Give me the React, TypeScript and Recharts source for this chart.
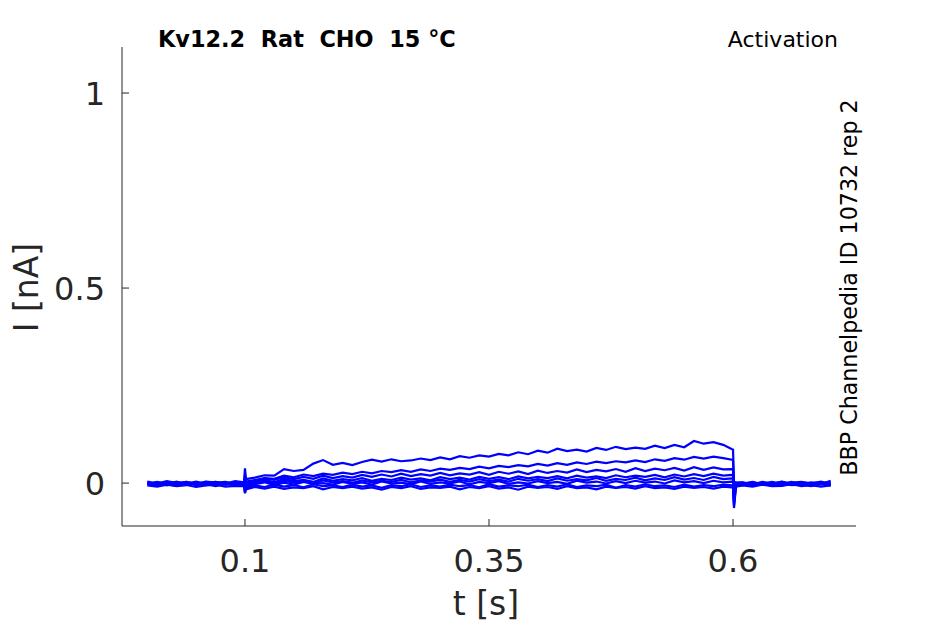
import React from "react";
import { LineChart, Line, XAxis, YAxis } from "recharts";

// time points [s]
const TIME = [
  0, 0.01, 0.02, 0.03, 0.04, 0.05, 0.06, 0.07, 0.08, 0.09,
  0.099, 0.1, 0.101,
  0.11, 0.12, 0.13, 0.14, 0.15, 0.16, 0.17, 0.18, 0.19, 0.2,
  0.21, 0.22, 0.23, 0.24, 0.25, 0.26, 0.27, 0.28, 0.29, 0.3,
  0.31, 0.32, 0.33, 0.34, 0.35, 0.36, 0.37, 0.38, 0.39, 0.4,
  0.41, 0.42, 0.43, 0.44, 0.45, 0.46, 0.47, 0.48, 0.49, 0.5,
  0.51, 0.52, 0.53, 0.54, 0.55, 0.56, 0.57, 0.58, 0.59,
  0.599, 0.6, 0.601, 0.603,
  0.61, 0.62, 0.63, 0.64, 0.65, 0.66, 0.67, 0.68, 0.69, 0.7,
];

// current traces [nA]
const TRACE_A = [
  0.004, -0.001, 0.005, 0.0, 0.003, -0.002, 0.004, 0.001, -0.001, 0.005,
  0.002, 0.038, 0.01,
  0.014, 0.02, 0.019, 0.036, 0.031, 0.034, 0.05, 0.059, 0.047, 0.052,
  0.046, 0.054, 0.06, 0.055, 0.061, 0.056, 0.058, 0.063, 0.059, 0.066,
  0.061, 0.069, 0.065, 0.071, 0.068, 0.075, 0.071, 0.079, 0.074, 0.083,
  0.078, 0.088, 0.082, 0.086, 0.081, 0.09, 0.085, 0.093, 0.087, 0.091,
  0.088, 0.096, 0.09, 0.098, 0.092, 0.108, 0.101, 0.105, 0.098,
  0.087, 0.086, 0.003, 0.002,
  0.001, -0.003, 0.003, -0.001, 0.004, -0.002, 0.002, 0.0, -0.003, 0.006,
];
const TRACE_B = [
  -0.002, 0.003, -0.003, 0.002, -0.001, 0.004, -0.002, 0.001, 0.003, -0.002,
  0.0, 0.022, 0.004,
  0.008, 0.013, 0.011, 0.019, 0.015, 0.022, 0.018, 0.024, 0.021, 0.027,
  0.023, 0.029, 0.025, 0.031, 0.028, 0.033, 0.029, 0.035, 0.031, 0.037,
  0.034, 0.039, 0.036, 0.042, 0.038, 0.044, 0.041, 0.046, 0.043, 0.049,
  0.045, 0.051, 0.047, 0.053, 0.049, 0.055, 0.051, 0.056, 0.053, 0.058,
  0.054, 0.061, 0.057, 0.064, 0.06, 0.067, 0.063, 0.068, 0.064,
  0.06, 0.058, -0.01, -0.002,
  -0.003, 0.002, -0.004, 0.001, -0.002, 0.003, -0.004, 0.0, 0.002, -0.003,
];
const TRACE_C = [
  0.001, -0.004, 0.002, -0.002, 0.003, -0.003, 0.0, 0.003, -0.004, 0.001,
  -0.002, 0.015, 0.002,
  0.006, 0.012, 0.008, 0.015, 0.01, 0.016, 0.011, 0.019, 0.013, 0.018,
  0.014, 0.021, 0.016, 0.022, 0.017, 0.024, 0.018, 0.023, 0.019, 0.026,
  0.02, 0.025, 0.022, 0.028, 0.021, 0.029, 0.024, 0.03, 0.023, 0.032,
  0.026, 0.031, 0.027, 0.035, 0.028, 0.034, 0.03, 0.036, 0.029, 0.038,
  0.031, 0.037, 0.033, 0.039, 0.032, 0.041, 0.034, 0.04, 0.035,
  0.036, 0.034, -0.02, 0.001,
  0.002, -0.004, 0.001, -0.002, 0.003, -0.003, 0.001, -0.001, 0.004, -0.002,
];
const TRACE_D = [
  -0.003, 0.002, -0.001, 0.004, -0.004, 0.001, -0.002, 0.003, -0.003, 0.002,
  0.001, 0.01, 0.0,
  0.004, 0.009, 0.002, 0.011, 0.005, 0.008, 0.003, 0.012, 0.006, 0.01,
  0.007, 0.013, 0.006, 0.011, 0.008, 0.014, 0.009, 0.012, 0.007, 0.015,
  0.01, 0.014, 0.009, 0.016, 0.011, 0.015, 0.01, 0.017, 0.012, 0.016,
  0.013, 0.018, 0.012, 0.019, 0.014, 0.017, 0.013, 0.02, 0.015, 0.019,
  0.016, 0.021, 0.015, 0.022, 0.017, 0.023, 0.018, 0.024, 0.019,
  0.021, 0.02, -0.03, -0.003,
  -0.001, 0.003, -0.003, 0.002, -0.004, 0.001, 0.003, -0.002, 0.001, -0.004,
];
const TRACE_E = [
  0.002, -0.005, 0.001, -0.003, 0.002, -0.004, 0.003, -0.002, 0.0, -0.004,
  -0.003, -0.012, -0.004,
  0.0, 0.005, -0.002, 0.006, 0.001, 0.004, -0.001, 0.007, 0.002, 0.005,
  0.001, 0.007, 0.002, 0.006, 0.003, 0.008, 0.002, 0.007, 0.004, 0.009,
  0.003, 0.008, 0.004, 0.01, 0.005, 0.009, 0.004, 0.011, 0.006, 0.01,
  0.005, 0.012, 0.006, 0.01, 0.007, 0.013, 0.006, 0.011, 0.008, 0.014,
  0.007, 0.012, 0.008, 0.015, 0.009, 0.013, 0.008, 0.016, 0.01,
  0.012, 0.011, -0.04, -0.005,
  -0.004, 0.001, -0.002, 0.003, -0.003, 0.0, -0.004, 0.002, -0.001, 0.003,
];
const TRACE_F = [
  -0.004, 0.0, -0.006, -0.001, -0.003, 0.001, -0.005, -0.002, 0.0, -0.006,
  -0.004, -0.02, -0.008,
  -0.003, 0.002, -0.005, 0.001, -0.004, 0.003, -0.002, 0.0, -0.004, 0.003,
  -0.002, 0.002, -0.004, 0.004, -0.001, 0.001, -0.003, 0.004, -0.002, 0.002,
  -0.001, 0.004, -0.003, 0.003, 0.0, 0.005, -0.002, 0.002, -0.001, 0.005,
  0.0, 0.003, -0.002, 0.006, 0.001, 0.004, -0.001, 0.005, 0.0, 0.006,
  0.001, 0.004, -0.001, 0.007, 0.002, 0.005, 0.0, 0.006, 0.002,
  0.004, 0.003, -0.05, -0.006,
  -0.005, -0.001, -0.003, 0.001, -0.006, -0.002, 0.0, -0.004, -0.001, -0.005,
];
const TRACE_G = [
  -0.001, -0.006, -0.002, -0.007, 0.0, -0.005, -0.003, -0.008, -0.002, -0.004,
  -0.006, -0.024, -0.012,
  -0.006, -0.01, -0.004, -0.009, -0.005, -0.011, -0.003, -0.008, -0.006, -0.01,
  -0.004, -0.009, -0.006, -0.012, -0.005, -0.008, -0.003, -0.01, -0.006, -0.009,
  -0.004, -0.008, -0.005, -0.011, -0.003, -0.009, -0.006, -0.008, -0.004, -0.01,
  -0.005, -0.009, -0.003, -0.01, -0.006, -0.008, -0.004, -0.012, -0.005, -0.009,
  -0.003, -0.008, -0.006, -0.01, -0.004, -0.009, -0.005, -0.008, -0.004,
  -0.006, -0.007, -0.058, -0.007,
  -0.002, -0.007, -0.003, -0.006, -0.001, -0.005, -0.004, -0.008, -0.002, -0.006,
];
const TRACE_H = [
  -0.006, -0.009, -0.004, -0.008, -0.005, -0.01, -0.006, -0.004, -0.009, -0.007,
  -0.008, -0.026, -0.016,
  -0.01, -0.014, -0.009, -0.015, -0.011, -0.013, -0.008, -0.016, -0.01, -0.013,
  -0.009, -0.014, -0.011, -0.017, -0.01, -0.013, -0.008, -0.015, -0.011, -0.012,
  -0.009, -0.016, -0.01, -0.013, -0.008, -0.014, -0.011, -0.017, -0.009, -0.012,
  -0.01, -0.015, -0.008, -0.013, -0.011, -0.016, -0.009, -0.012, -0.01, -0.014,
  -0.008, -0.013, -0.011, -0.015, -0.009, -0.012, -0.01, -0.014, -0.009,
  -0.011, -0.012, -0.064, -0.009,
  -0.006, -0.009, -0.004, -0.008, -0.007, -0.003, -0.008, -0.005, -0.009, -0.006,
];

const TRACES = [TRACE_A, TRACE_B, TRACE_C, TRACE_D, TRACE_E, TRACE_F, TRACE_G, TRACE_H];
const KEYS = ["a", "b", "c", "d", "e", "f", "g", "h"];

const X_TICKS = [0.1, 0.35, 0.6];
const Y_TICKS = [0, 0.5, 1];

const TITLE = "Kv12.2  Rat  CHO  15 °C";
const PROTOCOL = "Activation";
const SOURCE = "BBP Channelpedia ID 10732 rep 2";
const X_LABEL = "t [s]";
const Y_LABEL = "I [nA]";

const rows = TIME.map((t, i) => {
  const r: Record<string, number> = { t };
  TRACES.forEach((tr, k) => {
    r[KEYS[k]] = tr[i];
  });
  return r;
});

const AXIS = "#262626";
const FONT = "DejaVu Sans";

const XTick = (props: any) => {
  const { x, y, payload } = props;
  return (
    <g>
      <line x1={x} x2={x} y1={y} y2={y - 7} stroke={AXIS} strokeWidth={1} />
      <text x={x} y={y + 46} textAnchor="middle" fontSize={32} fill={AXIS} fontFamily={FONT}>
        {String(payload.value)}
      </text>
    </g>
  );
};

const YTick = (props: any) => {
  const { x, y, payload } = props;
  return (
    <g>
      <line x1={x} x2={x + 7} y1={y} y2={y} stroke={AXIS} strokeWidth={1} />
      <text x={x - 17} y={y + 12} textAnchor="end" fontSize={32} fill={AXIS} fontFamily={FONT}>
        {String(payload.value)}
      </text>
    </g>
  );
};

export default function App() {
  return (
    <div style={{ position: "absolute", left: 0, top: 0, width: 945, height: 624, background: "#fff", fontFamily: FONT }}>
      <LineChart width={945} height={624} data={rows} margin={{ top: 47, right: 89, bottom: 0, left: 0 }}>
        <XAxis
          dataKey="t"
          type="number"
          domain={[-0.026, 0.726]}
          ticks={X_TICKS}
          allowDataOverflow
          height={98}
          tickSize={0}
          tickMargin={0}
          tickLine={false}
          tick={<XTick />}
          axisLine={{ stroke: AXIS, strokeWidth: 1 }}
        />
        <YAxis
          type="number"
          domain={[-0.11, 1.118]}
          ticks={Y_TICKS}
          allowDataOverflow
          width={122}
          tickSize={0}
          tickMargin={0}
          tickLine={false}
          tick={<YTick />}
          axisLine={{ stroke: AXIS, strokeWidth: 1 }}
        />
        {KEYS.map((k) => (
          <Line
            key={k}
            dataKey={k}
            type="linear"
            stroke="#0000ff"
            strokeWidth={2.2}
            dot={false}
            activeDot={false}
            isAnimationActive={false}
          />
        ))}
      </LineChart>
      <svg
        width={945}
        height={624}
        style={{ position: "absolute", left: 0, top: 0, pointerEvents: "none" }}
      >
        <text x={158} y={47} fontSize={22.4} fontWeight="bold" fill="#000" fontFamily={FONT} style={{ whiteSpace: "pre" }}>
          {TITLE}
        </text>
        <text x={838} y={47} fontSize={22} fill="#000" textAnchor="end" fontFamily={FONT}>
          {PROTOCOL}
        </text>
        <text
          x={857}
          y={287.5}
          fontSize={22.2}
          fill="#000"
          textAnchor="middle"
          fontFamily={FONT}
          transform="rotate(-90 857 287.5)"
        >
          {SOURCE}
        </text>
        <text x={486} y={615} fontSize={33} fill={AXIS} textAnchor="middle" fontFamily={FONT}>
          {X_LABEL}
        </text>
        <text
          x={38}
          y={287.5}
          fontSize={33}
          fill={AXIS}
          textAnchor="middle"
          fontFamily={FONT}
          transform="rotate(-90 38 287.5)"
        >
          {Y_LABEL}
        </text>
      </svg>
    </div>
  );
}
